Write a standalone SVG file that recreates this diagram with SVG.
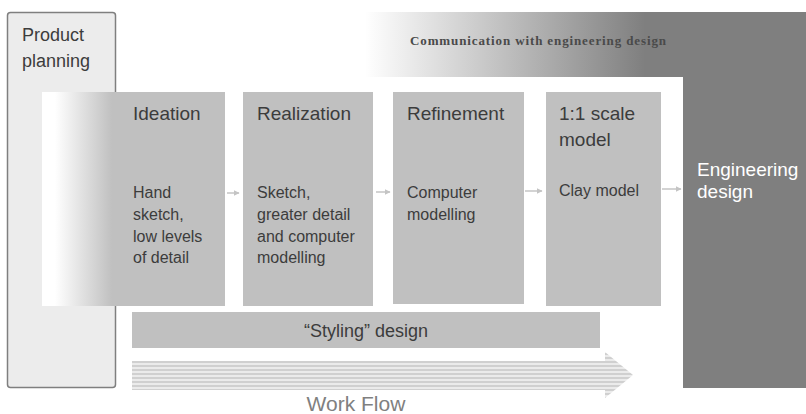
<svg xmlns="http://www.w3.org/2000/svg" width="806" height="414" viewBox="0 0 806 414">
<style>
.t{font-family:"Liberation Sans",Arial,sans-serif;fill:#3c3c3c}
.title{font-size:19px}
.body{font-size:16px}
.box{fill:#c0c0c0}
.conn{stroke:#c4c4c4;stroke-width:1.5;fill:none}
</style>
<defs>
<linearGradient id="gBand" gradientUnits="userSpaceOnUse" x1="365" y1="0" x2="645" y2="0">
<stop offset="0" stop-color="#ffffff"/>
<stop offset="1" stop-color="#7f7f7f"/>
</linearGradient>
<linearGradient id="gIdea" gradientUnits="userSpaceOnUse" x1="55" y1="0" x2="112" y2="0">
<stop offset="0" stop-color="#ffffff"/>
<stop offset="1" stop-color="#c0c0c0"/>
</linearGradient>
<pattern id="stripes" patternUnits="userSpaceOnUse" x="0" y="361" width="10" height="4">
<rect x="0" y="0" width="10" height="2" fill="#d0d0d0"/>
<rect x="0" y="2" width="10" height="2" fill="#ebebeb"/>
</pattern>
<marker id="ah" viewBox="0 0 10 10" refX="9" refY="5" markerWidth="4" markerHeight="4" orient="auto" markerUnits="strokeWidth">
<path d="M0,0 L10,5 L0,10 z" fill="#c4c4c4"/>
</marker>
</defs>

<g id="communication-band">
<rect x="340" y="12" width="345" height="65" fill="url(#gBand)"/>
<text x="410" y="45" font-family="Liberation Serif,serif" font-size="13" font-weight="bold" fill="#4a4a4a" textLength="256" lengthAdjust="spacing">Communication with engineering design</text>
</g>

<g id="engineering-design">
<rect x="683" y="12" width="123" height="376" fill="#7f7f7f"/>
<text class="t title" x="697" y="176" style="fill:#ffffff">Engineering</text>
<text class="t title" x="697" y="198" style="fill:#ffffff">design</text>
</g>

<g id="product-planning">
<rect x="7.5" y="12.5" width="108" height="375" rx="3" fill="#ececec" stroke="#7f7f7f" stroke-width="1.5"/>
<text class="t" x="22" y="41" font-size="18">Product</text>
<text class="t" x="22" y="67" font-size="18">planning</text>
</g>

<g id="ideation">
<rect x="42" y="92" width="183" height="214" fill="url(#gIdea)"/>
<text class="t title" x="133" y="120">Ideation</text>
<text class="t body" x="133" y="198">Hand</text>
<text class="t body" x="133" y="220">sketch,</text>
<text class="t body" x="133" y="242">low levels</text>
<text class="t body" x="133" y="263">of detail</text>
</g>

<g id="realization">
<rect class="box" x="243" y="92" width="130" height="214"/>
<text class="t title" x="257" y="120">Realization</text>
<text class="t body" x="257" y="198">Sketch,</text>
<text class="t body" x="257" y="220">greater detail</text>
<text class="t body" x="257" y="242">and computer</text>
<text class="t body" x="257" y="263">modelling</text>
</g>

<g id="refinement">
<rect class="box" x="393" y="92" width="131" height="212"/>
<text class="t title" x="407" y="120">Refinement</text>
<text class="t body" x="407" y="198">Computer</text>
<text class="t body" x="407" y="220">modelling</text>
</g>

<g id="scale-model">
<rect class="box" x="546" y="92" width="115" height="214"/>
<text class="t title" x="559" y="120">1:1 scale</text>
<text class="t title" x="559" y="146">model</text>
<text class="t body" x="559" y="196">Clay model</text>
</g>

<g id="styling-design">
<rect class="box" x="132" y="312" width="468" height="36"/>
<text class="t" x="366" y="337" font-size="18" text-anchor="middle">“Styling” design</text>
</g>

<g id="work-flow">
<polygon points="132,361 605,361 605,352 633,375 605,398 605,390 132,390" fill="url(#stripes)"/>
<text class="t" x="356" y="411" font-size="21" text-anchor="middle" style="fill:#808080">Work Flow</text>
</g>

<g id="connectors">
<line class="conn" x1="227" y1="193" x2="239" y2="193" marker-end="url(#ah)"/>
<line class="conn" x1="376" y1="192" x2="390" y2="192" marker-end="url(#ah)"/>
<line class="conn" x1="525" y1="191" x2="542" y2="191" marker-end="url(#ah)"/>
<line class="conn" x1="662" y1="189" x2="681" y2="189" marker-end="url(#ah)"/>
</g>
</svg>
